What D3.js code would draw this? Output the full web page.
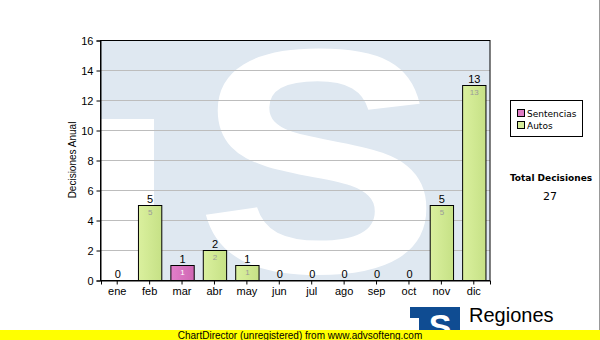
<!DOCTYPE html>
<html>
<head>
<meta charset="utf-8">
<script src="https://cdn.jsdelivr.net/npm/d3@7"></script>
<style>
  body { margin: 0; background: #fff; }
  svg { display: block; font-family: "Liberation Sans", Arial, sans-serif; }
</style>
</head>
<body>
<script>
// data
var months = ['ene', 'feb', 'mar', 'abr', 'may', 'jun', 'jul', 'ago', 'sep', 'oct', 'nov', 'dic'];
var sentencias = [0, 0, 1, 0, 0, 0, 0, 0, 0, 0, 0, 0];
var autos = [0, 5, 0, 2, 1, 0, 0, 0, 0, 0, 5, 13];
var yTicks = [0, 2, 4, 6, 8, 10, 12, 14, 16];
var seriesNames = ['Sentencias', 'Autos'];
var totalLabel = 'Total Decisiones';

var W = 600, H = 340;
// plot box (note: "top" is reserved on window, so use pTop)
var pLeft = 101, pRight = 490, pTop = 40, pBottom = 280;

var svg = d3.select('body').append('svg').attr('width', W).attr('height', H);
var defs = svg.append('defs');

//gradients for the bars
function grad(id, c1, c2) {
  var g = defs.append('linearGradient').attr('id', id).attr('x1', 0).attr('x2', 1).attr('y1', 0).attr('y2', 0);
  g.append('stop').attr('offset', '0%').attr('stop-color', c1);
  g.append('stop').attr('offset', '100%').attr('stop-color', c2);
}
grad('gAutos', '#daf09e', '#c6e186');
grad('gSent', '#e27fca', '#cf67b3');

defs.append('clipPath').attr('id', 'plotClip')
  .append('rect').attr('x', pLeft).attr('y', pTop).attr('width', pRight - pLeft).attr('height', pBottom - pTop);

var x = d3.scaleBand().domain(months).range([pLeft, pRight]).paddingInner(0.28).paddingOuter(0.14);
var y = d3.scaleLinear().domain([0, 16]).range([pBottom, pTop]);

//watermark logo behind the plot
var wm = svg.append('g').attr('clip-path', 'url(#plotClip)');
wm.append('rect').attr('x', pLeft).attr('y', pTop).attr('width', pRight - pLeft).attr('height', pBottom - pTop).attr('fill', '#dfe8f1');
wm.append('rect').attr('x', pLeft).attr('y', 119).attr('width', 53).attr('height', pBottom - 119).attr('fill', '#fff');
wm.append('text').attr('transform', 'translate(318,272) scale(1.15,1)').attr('text-anchor', 'middle')
  .style('font-family', '"Liberation Sans", Arial').style('font-weight', 'bold').style('font-size', '320px')
  .attr('fill', '#fff').text('S');

//grid lines
svg.append('g').selectAll('line').data(yTicks.slice(1, -1)).enter().append('line')
  .attr('x1', pLeft).attr('x2', pRight)
  .attr('y1', function(d) { return y(d) + 0.5; }).attr('y2', function(d) { return y(d) + 0.5; })
  .attr('stroke', '#bdbdbd');

//frame
svg.append('rect').attr('x', pLeft - 0.5).attr('y', pTop + 0.5).attr('width', pRight - pLeft + 0.5).attr('height', pBottom - pTop)
  .attr('fill', 'none').attr('stroke', '#000');

//axes
var yAxis = d3.axisLeft(y).tickValues(yTicks).tickSize(4).tickPadding(3);
var gy = svg.append('g').attr('transform', 'translate(' + (pLeft - 0.5) + ',0.5)').call(yAxis);
gy.select('.domain').attr('stroke', '#000');
gy.selectAll('text').style('font-size', '11px').style('font-family', '"Liberation Sans", Arial').attr('fill', '#000');

var xAxis = d3.axisBottom(x).tickSize(4).tickPadding(3);
var gx = svg.append('g').attr('transform', 'translate(0,' + (pBottom + 0.5) + ')').call(xAxis);
gx.select('.domain').attr('stroke', '#000');
gx.selectAll('text').style('font-size', '11px').style('font-family', '"Liberation Sans", Arial').attr('fill', '#000');

svg.append('text').attr('transform', 'translate(76,160) rotate(-90)').attr('text-anchor', 'middle')
  .style('font-size', '10px').text('Decisiones Anual');

//stacked bars
var rows = months.map(function(m, i) {
  return { m: m, s: sentencias[i], a: autos[i], t: sentencias[i] + autos[i] };
});
var bars = svg.append('g');
rows.forEach(function(d) {
  if (d.s > 0) {
    bars.append('rect').attr('x', x(d.m) + 0.5).attr('y', y(d.s) + 0.5)
      .attr('width', x.bandwidth()).attr('height', y(0) - y(d.s))
      .attr('fill', 'url(#gSent)').attr('stroke', '#000');
    bars.append('text').attr('x', x(d.m) + x.bandwidth() / 2 + 0.5).attr('y', y(d.s) + 10)
      .attr('text-anchor', 'middle').style('font-size', '8px').attr('fill', '#fff').text(d.s);
  }
  if (d.a > 0) {
    bars.append('rect').attr('x', x(d.m) + 0.5).attr('y', y(d.s + d.a) + 0.5)
      .attr('width', x.bandwidth()).attr('height', y(d.s) - y(d.s + d.a))
      .attr('fill', 'url(#gAutos)').attr('stroke', '#000');
    bars.append('text').attr('x', x(d.m) + x.bandwidth() / 2 + 0.5).attr('y', y(d.s + d.a) + 10)
      .attr('text-anchor', 'middle').style('font-size', '8px').attr('fill', '#9a9a9a').text(d.a);
  }
  bars.append('text').attr('x', x(d.m) + x.bandwidth() / 2 + 0.5).attr('y', y(d.t) - 2)
    .attr('text-anchor', 'middle').style('font-size', '11px').attr('fill', '#000').text(d.t);
});

//legend
var lg = svg.append('g').style('font-family', '"DejaVu Sans", Verdana').style('font-size', '9px');
lg.append('rect').attr('x', 510.5).attr('y', 100.5).attr('width', 72).attr('height', 36).attr('fill', '#fff').attr('stroke', '#000');
var swatch = ['#de7cc4', '#d6ed9a'];
seriesNames.forEach(function(n, i) {
  lg.append('rect').attr('x', 517.5).attr('y', 109.5 + i * 12).attr('width', 7).attr('height', 7)
    .attr('fill', swatch[i]).attr('stroke', '#000');
  lg.append('text').attr('x', 527).attr('y', 117 + i * 12).text(n);
});

//total
var total = d3.sum(sentencias) + d3.sum(autos);
svg.append('text').attr('x', 551).attr('y', 181).attr('text-anchor', 'middle')
  .style('font-family', '"DejaVu Sans", Verdana').style('font-size', '9px').style('font-weight', 'bold').text(totalLabel);
svg.append('text').attr('x', 550).attr('y', 200).attr('text-anchor', 'middle')
  .style('font-family', '"DejaVu Sans", Verdana').style('font-size', '11px').text(total);

//logo at the bottom right
var logo = svg.append('g');
logo.append('rect').attr('x', 410).attr('y', 307).attr('width', 50).attr('height', 33).attr('fill', '#0f4c92');
logo.append('rect').attr('x', 410).attr('y', 318).attr('width', 9).attr('height', 22).attr('fill', '#fff');
logo.append('text').attr('x', 440).attr('y', 338).attr('text-anchor', 'middle')
  .style('font-family', '"Liberation Sans", Arial').style('font-weight', 'bold').style('font-size', '34px').attr('fill', '#fff').text('S');
logo.append('text').attr('x', 469).attr('y', 322).style('font-size', '20px').attr('fill', '#000').text('Regiones');
logo.append('text').attr('x', 467).attr('y', 339).style('font-size', '11px').attr('fill', '#000').text('Tribunal Supremo de Justicia');

//right edge line
svg.append('line').attr('x1', 599.5).attr('x2', 599.5).attr('y1', 0).attr('y2', 330).attr('stroke', '#999');

//unregistered banner
svg.append('rect').attr('x', 0).attr('y', 330).attr('width', W).attr('height', 10).attr('fill', '#ffff00');
svg.append('text').attr('x', 300).attr('y', 338.5).attr('text-anchor', 'middle')
  .style('font-size', '10px').attr('fill', '#000').text('ChartDirector (unregistered) from www.advsofteng.com');
</script>
</body>
</html>
